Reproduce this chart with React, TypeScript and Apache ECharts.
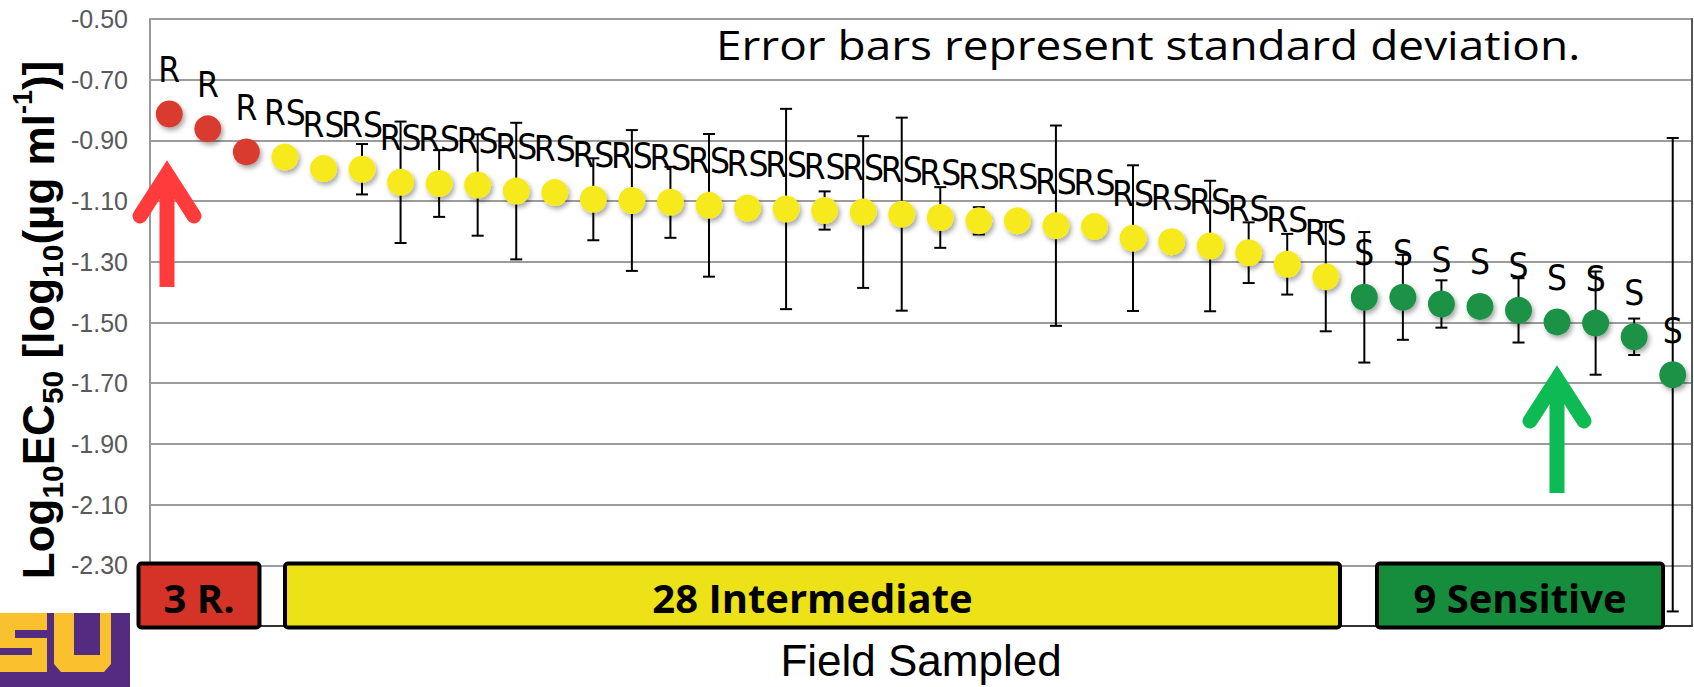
import React, { useEffect, useRef } from "react";
import * as echarts from "echarts";

const fields = [
  "F1", "F2", "F3", "F4", "F5", "F6", "F7", "F8", "F9", "F10",
  "F11", "F12", "F13", "F14", "F15", "F16", "F17", "F18", "F19", "F20",
  "F21", "F22", "F23", "F24", "F25", "F26", "F27", "F28", "F29", "F30",
  "F31", "F32", "F33", "F34", "F35", "F36", "F37", "F38", "F39", "F40",
];

const log10EC50 = [
  -0.813, -0.862, -0.938, -0.955, -0.993, -0.995, -1.038, -1.042, -1.047, -1.067,
  -1.072, -1.094, -1.098, -1.104, -1.114, -1.123, -1.126, -1.131, -1.136, -1.143,
  -1.154, -1.165, -1.165, -1.181, -1.184, -1.222, -1.234, -1.248, -1.270, -1.308,
  -1.349, -1.417, -1.417, -1.439, -1.447, -1.460, -1.498, -1.502, -1.547, -1.672,
];

const stdDev = [
  0, 0, 0, 0, 0, 0.083, 0.2, 0.11, 0.167, 0.225,
  0, 0.135, 0.232, 0.117, 0.235, 0, 0.33, 0.063, 0.25, 0.318,
  0.1, 0.045, 0, 0.33, 0, 0.24, 0, 0.215, 0.1, 0.1,
  0.18, 0.215, 0.14, 0.078, 0, 0.106, 0, 0.17, 0.06, 0.78,
];

const phenotype = [
  "R", "R", "R",
  "RS", "RS", "RS", "RS", "RS", "RS", "RS", "RS", "RS", "RS",
  "RS", "RS", "RS", "RS", "RS", "RS", "RS", "RS", "RS", "RS",
  "RS", "RS", "RS", "RS", "RS", "RS", "RS", "RS",
  "S", "S", "S", "S", "S", "S", "S", "S", "S",
];

const phenotypeColor: Record<string, string> = {
  R: "#D93A2F",
  RS: "#F7EA1C",
  S: "#1A9246",
};

const yMin = -2.5;
const yMax = -0.5;
const yStep = 0.2;

const groupLabels = ["3 R.", "28 Intermediate", "9 Sensitive"];
const groupFills = ["#D63328", "#EDE217", "#168C3D"];

export default function App() {
  const ref = useRef<HTMLDivElement>(null);

  useEffect(() => {
    document.body.style.margin = "0";
    if (!ref.current) return;
    const chart = echarts.init(ref.current, undefined, { renderer: "svg" });

    const scatterData = log10EC50.map((v, i) => ({
      value: [i, v],
      itemStyle: { color: phenotypeColor[phenotype[i]] },
    }));

    const errData = log10EC50
      .map((v, i) => [i, v - stdDev[i], v + stdDev[i], stdDev[i]])
      .filter((d) => d[3] > 0);

    const boxes = [
      { x: 138.5, w: 121 },
      { x: 285, w: 1055 },
      { x: 1377, w: 286 },
    ];

    const boxGraphics: any[] = [];
    boxes.forEach((b, i) => {
      boxGraphics.push({
        type: "rect",
        z: 100,
        shape: { x: b.x, y: 563.5, width: b.w, height: 64, r: 3 },
        style: { fill: groupFills[i], stroke: "#000", lineWidth: 4 },
      });
      boxGraphics.push({
        type: "text",
        z: 101,
        x: b.x + b.w / 2,
        y: 597,
        style: {
          text: groupLabels[i],
          fontFamily: "'Open Sans', sans-serif",
          fontWeight: "bold",
          fontSize: 40,
          fill: "#000",
          align: "center",
          verticalAlign: "middle",
        },
      });
    });

    const arrow = (cx: number, tipY: number, baseY: number, color: string) => [
      {
        type: "line",
        z: 90,
        shape: { x1: cx, y1: baseY, x2: cx, y2: tipY + 4 },
        style: { stroke: color, lineWidth: 15, lineCap: "butt" },
      },
      {
        type: "polyline",
        z: 90,
        shape: {
          points: [
            [cx - 27, tipY + 42],
            [cx, tipY],
            [cx + 27, tipY + 42],
          ],
        },
        style: {
          stroke: color,
          fill: "none",
          lineWidth: 15,
          lineCap: "round",
          lineJoin: "miter",
        },
      },
    ];

    const logo = [
      {
        type: "rect",
        z: 100,
        shape: { x: 0, y: 613, width: 130, height: 74 },
        style: { fill: "#532C81" },
      },
      {
        type: "polygon",
        z: 101,
        shape: {
          points: [
            [0, 613], [47, 613], [47, 630], [15, 630], [15, 638],
            [47, 638], [47, 672], [0, 672], [0, 655], [32, 655],
            [32, 648], [0, 648],
          ],
        },
        style: { fill: "#FAC12F" },
      },
      {
        type: "polygon",
        z: 101,
        shape: {
          points: [
            [54, 613], [74, 613], [74, 655], [100, 655], [100, 613],
            [111, 613], [111, 664], [104, 672], [61, 672], [54, 664],
          ],
        },
        style: { fill: "#FAC12F" },
      },
    ];

    const option: any = {
      animation: false,
      backgroundColor: "#ffffff",
      grid: { left: 150, right: 2, top: 19, bottom: 55, containLabel: false },
      xAxis: {
        type: "category",
        data: fields,
        boundaryGap: true,
        axisLabel: { show: false },
        axisTick: { show: false },
        axisLine: { show: true, lineStyle: { color: "#333", width: 2 } },
        splitLine: { show: false },
        name: "Field Sampled",
        nameLocation: "middle",
        nameGap: 12,
        nameTextStyle: {
          fontFamily: "'Liberation Sans', Arial, sans-serif",
          fontSize: 44,
          color: "#000",
        },
      },
      yAxis: [
        {
          type: "value",
          min: yMin,
          max: yMax,
          interval: yStep,
          axisLine: { show: true, lineStyle: { color: "#999", width: 2 } },
          axisTick: { show: false },
          splitLine: { show: true, lineStyle: { color: "#9c9c9c", width: 2 } },
          axisLabel: {
            showMinLabel: false,
            margin: 22,
            fontSize: 25,
            fontFamily: "'Liberation Sans', Arial, sans-serif",
            color: "#595959",
            formatter: (v: number) => v.toFixed(2),
          },
        },
        {
          type: "value",
          position: "right",
          min: yMin,
          max: yMax,
          interval: yStep,
          axisLine: { show: true, lineStyle: { color: "#555", width: 2 } },
          axisTick: { show: false },
          axisLabel: { show: false },
          splitLine: { show: false },
        },
      ],
      series: [
        {
          type: "custom",
          z: 3,
          data: errData,
          encode: { x: 0, y: [1, 2] },
          renderItem: (params: any, api: any) => {
            const i = api.value(0);
            const lo = api.coord([i, api.value(1)]);
            const hi = api.coord([i, api.value(2)]);
            const hw = 6;
            const st = { stroke: "#000", lineWidth: 2 };
            return {
              type: "group",
              children: [
                { type: "line", shape: { x1: hi[0], y1: hi[1], x2: lo[0], y2: lo[1] }, style: st },
                { type: "line", shape: { x1: hi[0] - hw, y1: hi[1], x2: hi[0] + hw, y2: hi[1] }, style: st },
                { type: "line", shape: { x1: lo[0] - hw, y1: lo[1], x2: lo[0] + hw, y2: lo[1] }, style: st },
              ],
            };
          },
        },
        {
          type: "scatter",
          z: 5,
          symbolSize: 27,
          data: scatterData,
          itemStyle: {
            opacity: 1,
            shadowBlur: 5,
            shadowColor: "rgba(0,0,0,0.35)",
            shadowOffsetX: 2,
            shadowOffsetY: 3,
          },
          label: {
            show: true,
            position: "top",
            distance: 13,
            formatter: (p: any) => phenotype[p.dataIndex],
            fontFamily: "'Liberation Sans Narrow', 'DejaVu Sans Condensed', 'Liberation Sans', sans-serif",
            fontSize: 35,
            color: "#000",
          },
        },
      ],
      graphic: [
        {
          type: "text",
          z: 100,
          x: 716,
          y: 45,
          scaleX: 1.15,
          style: {
            text: "Error bars represent standard deviation.",
            fontFamily: "'Open Sans', sans-serif",
            fontSize: 40,
            fill: "#000",
            align: "left",
            verticalAlign: "middle",
          },
        },
        {
          type: "text",
          z: 100,
          x: 38,
          y: 320,
          rotation: Math.PI / 2,
          style: {
            text: "{m|Log}{s|10}{m|EC}{s|50}{m| [log}{s|10}{m|(µg ml}{p|-1}{m|)]}",
            align: "center",
            verticalAlign: "middle",
            fill: "#000",
            rich: {
              m: {
                fontFamily: "'Liberation Sans', Arial, sans-serif",
                fontWeight: "bold",
                fontSize: 44,
                lineHeight: 58,
                fill: "#000",
              },
              s: {
                fontFamily: "'Liberation Sans', Arial, sans-serif",
                fontWeight: "bold",
                fontSize: 30,
                lineHeight: 30,
                verticalAlign: "bottom",
                fill: "#000",
              },
              p: {
                fontFamily: "'Liberation Sans', Arial, sans-serif",
                fontWeight: "bold",
                fontSize: 27,
                lineHeight: 40,
                verticalAlign: "top",
                fill: "#000",
              },
            },
          },
        },
        ...arrow(167, 174, 287, "#FF3B3B"),
        ...arrow(1557, 379, 493, "#0DBA54"),
        ...boxGraphics,
        ...logo,
      ],
    };

    chart.setOption(option);
    return () => chart.dispose();
  }, []);

  return <div ref={ref} style={{ width: 1694, height: 687 }} />;
}
